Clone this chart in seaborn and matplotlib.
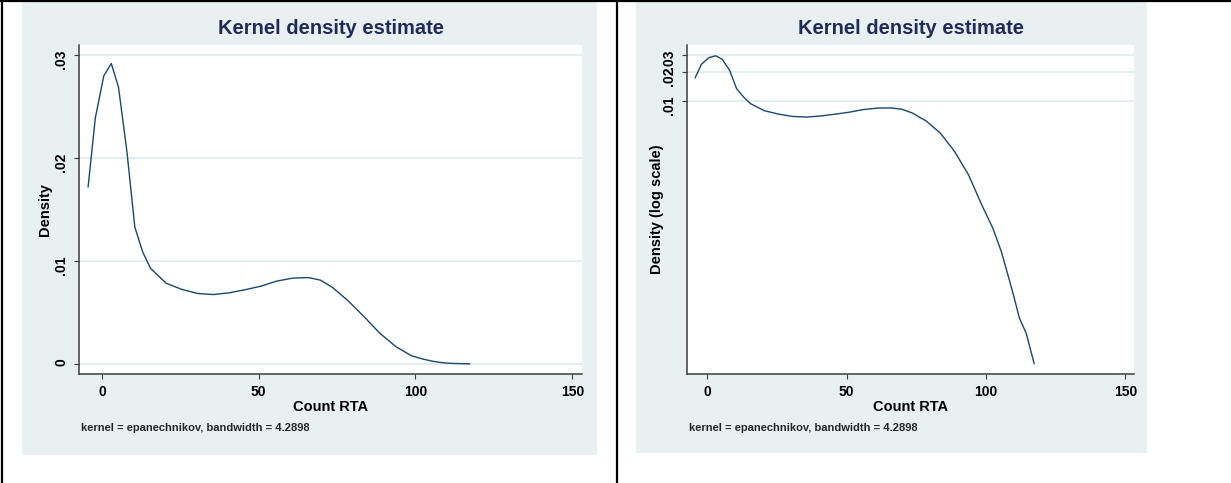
import numpy as np
import pandas as pd
import matplotlib
matplotlib.use('Agg')
import matplotlib.pyplot as plt
import seaborn as sns
from matplotlib.patches import Rectangle
from matplotlib.lines import Line2D
from matplotlib.ticker import FixedLocator, NullLocator

# values (kernel density of Count RTA)
count_rta = [-4.4, -2.1, 0.6, 3.0, 5.3, 8.0, 10.5, 13.0, 15.5, 20.5, 25.5, 30.6,
             35.6, 40.6, 45.7, 50.8, 55.8, 60.9, 65.9, 69.7, 73.5, 78.5, 83.6,
             88.6, 93.7, 98.7, 102.5, 105.5, 108.0, 110.0, 112.0, 114.4, 117.3]
density = [0.01720, 0.02390, 0.02800, 0.02920, 0.02690, 0.02060, 0.01330,
           0.01090, 0.00930, 0.00785, 0.00725, 0.00685, 0.00675, 0.00692,
           0.00722, 0.00757, 0.00806, 0.00835, 0.00840, 0.00815, 0.00745,
           0.00615, 0.00460, 0.00300, 0.00170, 0.00080, 0.00047, 0.00027,
           0.00015, 0.000092, 0.000055, 0.0000385, 0.0000185]

xticks = [0, 50, 100, 150]
xtick_labels = ['0', '50', '100', '150']
yticks_lin = [0, 0.01, 0.02, 0.03]
ytick_lin_labels = ['0', '.01', '.02', '.03']
yticks_log = [0.01, 0.02, 0.03]
ytick_log_labels = ['.01', '.02', '.03']

title = 'Kernel density estimate'
x_label = 'Count RTA'
y_labels = ['Density', 'Density (log scale)']
note = 'kernel = epanechnikov, bandwidth = 4.2898'

sns.set_style('white')
plt.rcParams['font.family'] = ['Liberation Sans', 'DejaVu Sans']
plt.rcParams['font.weight'] = 'bold'

df = pd.DataFrame({'Count RTA': count_rta, 'Density': density})

W, H = 1231, 483
fig = plt.figure(figsize=(W / 100, H / 100), dpi=100)
fig.patch.set_facecolor('white')

def box(l, t, r, b):
    return [l / W, 1 - b / H, (r - l) / W, (b - t) / H]

# graph region backgrounds, kept behind the axes
bg = '#e9f0f2'
for l, t, r, b in [(22, 2, 597, 455), (636, 2, 1147, 453)]:
    x0, y0, w, h = box(l, t, r, b)
    fig.patches.append(Rectangle((x0, y0), w, h, transform=fig.transFigure,
                                 facecolor=bg, edgecolor='none', zorder=-5))

# table borders
for xs, ys in [((0, W), (1, 1)), ((2.5, 2.5), (0, H)), ((617, 617), (0, H))]:
    fig.lines.append(Line2D([x / W for x in xs], [1 - y / H for y in ys],
                            transform=fig.transFigure, color='black', lw=1.6,
                            zorder=-4))

ax1 = fig.add_axes(box(79, 45, 582, 374))
ax2 = fig.add_axes(box(687, 45, 1134, 374))

navy = '#1a476f'
axis_col = '#3c3c3c'
grid_col = '#e6edf0'

for ax, ylab, log in [(ax1, y_labels[0], False), (ax2, y_labels[1], True)]:
    sns.lineplot(data=df, x='Count RTA', y='Density', ax=ax, color=navy,
                 lw=1.0, estimator=None)
    ax.set_xlim(-7.3, 153.1)
    if log:
        ax.set_yscale('log')
        ax.set_ylim(1.45e-5, 0.0378)
        ax.yaxis.set_major_locator(FixedLocator(yticks_log))
        ax.yaxis.set_minor_locator(NullLocator())
        ax.set_yticklabels(ytick_log_labels)
    else:
        ax.set_ylim(-0.00097, 0.031)
        ax.set_yticks(yticks_lin)
        ax.set_yticklabels(ytick_lin_labels)
    ax.set_xticks(xticks)
    ax.set_xticklabels(xtick_labels)

    ax.set_facecolor('white')
    ax.yaxis.grid(True, color=grid_col, lw=1.5)
    ax.xaxis.grid(False)
    ax.set_axisbelow(True)
    for s in ['top', 'right']:
        ax.spines[s].set_visible(False)
    for s in ['left', 'bottom']:
        ax.spines[s].set_color(axis_col)
        ax.spines[s].set_linewidth(1.1)

    ax.tick_params(axis='both', direction='out', length=3.6, width=0.8,
                   color=axis_col, labelsize=10, labelcolor='black')
    ax.tick_params(axis='x', pad=4, bottom=True)
    ax.tick_params(axis='y', pad=4, labelrotation=90, left=True)

    ax.set_title(title, fontsize=14.5, fontweight='bold', color='#1f2b58',
                 pad=0, y=(374 - 29) / 329, va='center')
    ax.set_xlabel(x_label, fontsize=10.5, fontweight='bold', color='black')
    ax.xaxis.set_label_coords(0.5, (374 - 407) / 329)
    ax.xaxis.label.set_verticalalignment('center')
    ax.set_ylabel(ylab, fontsize=10.5, fontweight='bold', color='black')
    ax.text(0.004, (374 - 428) / 329, note, transform=ax.transAxes,
            ha='left', va='center', fontsize=8, fontweight='bold')

ax1.yaxis.set_label_coords((45 - 79) / 503, 0.5)
ax2.yaxis.set_label_coords((657 - 687) / 447, 0.5)
for ax in (ax1, ax2):
    ax.yaxis.label.set_verticalalignment('center')

fig.savefig('out.png', dpi=100, facecolor='white')
